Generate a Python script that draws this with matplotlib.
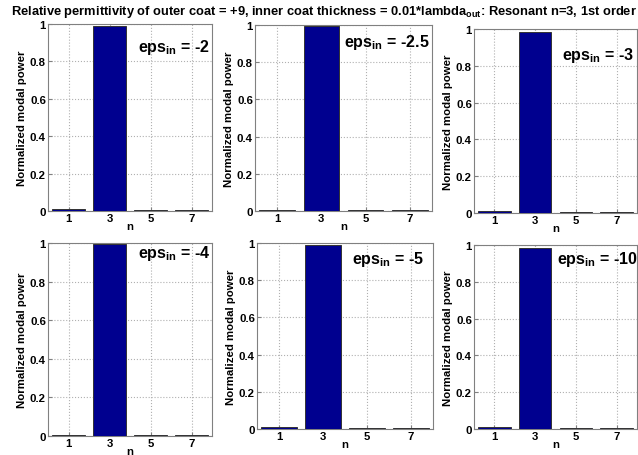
import matplotlib
matplotlib.use("Agg")
import matplotlib.pyplot as plt

plt.rcParams['font.family'] = ['Liberation Sans', 'DejaVu Sans']
plt.rcParams['font.weight'] = 'bold'
plt.rcParams['mathtext.fontset'] = 'custom'
plt.rcParams['mathtext.rm'] = 'Liberation Sans:bold'
plt.rcParams['mathtext.default'] = 'rm'

# modos y potencias normalizadas
n_modos = [1, 3, 5, 7]
eps_in = ["-2", "-2.5", "-3", "-4", "-5", "-10"]
potencia = [
    [0.010, 0.990, 0.003, 0.003],
    [0.005, 0.995, 0.003, 0.003],
    [0.010, 0.985, 0.003, 0.003],
    [0.005, 0.995, 0.003, 0.003],
    [0.010, 0.990, 0.003, 0.003],
    [0.010, 0.985, 0.003, 0.003],
]

# posiciones de los ejes en pixeles (izq, arriba, der, abajo)
W, H = 638, 456
cajas = [
    (48, 25, 212, 212),
    (255, 26, 432, 212),
    (474, 30, 637, 214),
    (48, 244, 212, 437),
    (257, 244, 433, 430),
    (474, 246, 637, 430),
]
# donde va el texto eps_in (coordenadas de datos)
pos_texto = [(4.4, 0.855), (4.0, 0.887), (4.3, 0.837),
             (4.4, 0.93), (4.3, 0.89), (4.05, 0.90)]

fig = plt.figure(figsize=(W / 100, H / 100), dpi=100)

for k, (l, t, r, b) in enumerate(cajas):
    ax = fig.add_axes([l / W, 1 - b / H, (r - l) / W, (b - t) / H])
    ax.bar(n_modos, potencia[k], width=1.6, color='#00008f',
           edgecolor='#333333', linewidth=0.7, zorder=3)
    ax.set_xlim(0, 8)
    ax.set_ylim(0, 1)
    ax.set_xticks(n_modos)
    ax.set_yticks([0, 0.2, 0.4, 0.6, 0.8, 1])
    ax.set_yticklabels(['0', '0.2', '0.4', '0.6', '0.8', '1'])
    ax.grid(True, linestyle=':', color='#b0b0b0', linewidth=0.8, zorder=0)
    ax.tick_params(direction='in', length=3, labelsize=8.2, pad=1.5,
                   color='#808080')
    for s in ax.spines.values():
        s.set_color('#808080')
        s.set_linewidth(0.8)
    ax.set_xlabel('n', fontsize=8.2, fontweight='bold', labelpad=-1.5)
    ax.set_ylabel('Normalized modal power', fontsize=8.2, fontweight='bold', labelpad=2)
    x, y = pos_texto[k]
    ax.text(x, y, r'eps$_{\mathrm{in}}$ = ' + eps_in[k], fontsize=11.5,
            fontweight='bold', va='baseline', ha='left', zorder=5)

fig.text(324 / W, 1 - 12 / H,
         r'Relative permittivity of outer coat = +9, inner coat thickness = 0.01*lambda$_{\mathrm{out}}$: Resonant n=3, 1st order',
         ha='center', va='center', fontsize=9.3, fontweight='bold')

fig.savefig('out.png', dpi=100)
